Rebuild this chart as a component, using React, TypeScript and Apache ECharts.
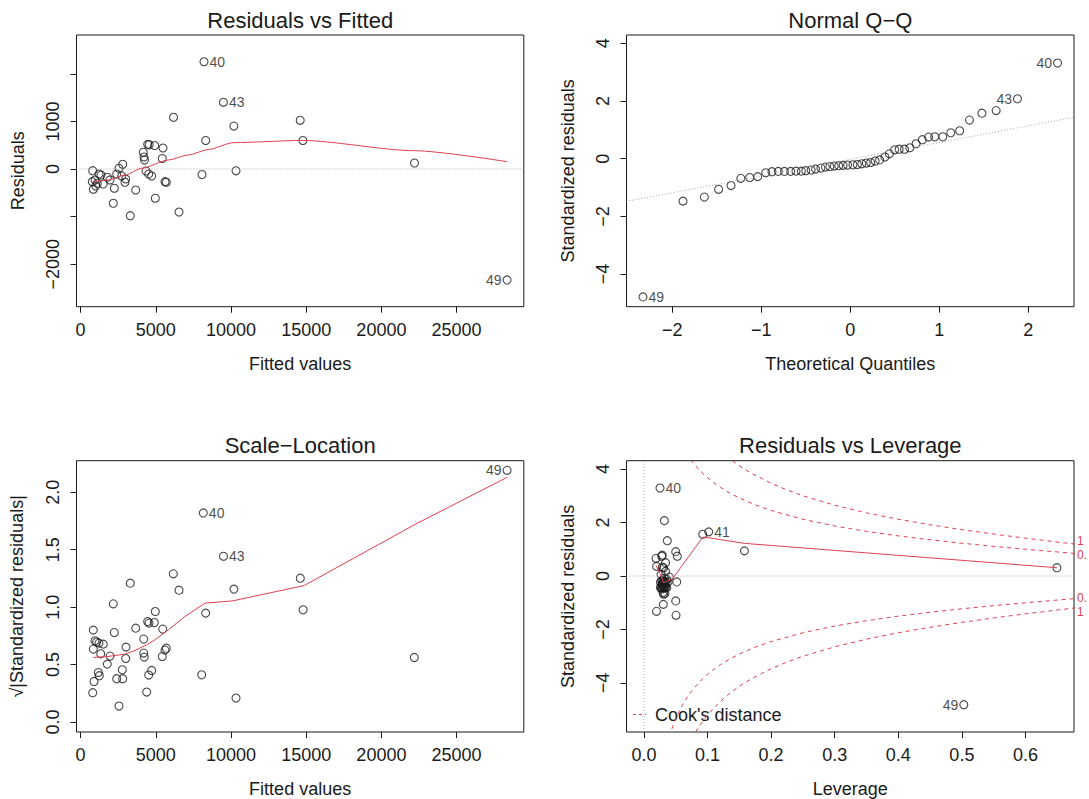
import React, { useEffect, useRef } from 'react';
import * as echarts from 'echarts';

const FONT = '"Liberation Sans", Arial, Helvetica, sans-serif';
const RED = '#e0404f';
const INK = '#1a1a1a';
const GREY = '#a8a8a8';

// ---------- Panel 1: Residuals vs Fitted ----------
const rfFitted = [8205, 9495, 28358, 6177, 8318, 10186, 14601, 14781, 22201, 10333, 8072, 4461, 4561, 4927, 5479, 4169, 4215, 4249, 5432, 2799, 2553, 805, 1223, 1356, 4348, 4528, 4727, 2400, 2733, 2999, 1775, 1955, 957, 778, 1110, 1004, 1509, 2952, 5612, 5698, 2241, 844, 3664, 4967, 2174, 6543, 3305];
const rfResid = [2253, 1401, -2331, 1086, 599, 901, 1023, 599, 126, -38, -116, 519, 508, 494, 441, 351, 252, 189, 221, 99, 15, -36, -105, -126, -42, -105, -147, -105, -147, -210, -174, -231, -231, -267, -300, -357, -315, -279, -267, -279, -405, -426, -441, -615, -720, -903, -981];
const rfSmoothX = [838, 1842, 2952, 4062, 5831, 7161, 8491, 10150, 14770, 22150, 28358];
const rfSmoothY = [-267, -231, -126, 15, 189, 294, 410, 553, 600, 385, 154];
const rfIds = [{ i: 0, t: '40', p: 'right' }, { i: 1, t: '43', p: 'right' }, { i: 2, t: '49', p: 'left' }];
const rfXTicks = [0, 5000, 10000, 15000, 20000, 25000];
const rfYTicks = [-2000, -1000, 0, 1000, 2000];
const rfYLabels = [-2000, 0, 1000];

// ---------- Panel 2: Normal Q-Q ----------
const qqTheo = [-2.33, -1.88, -1.64, -1.48, -1.34, -1.23, -1.13, -1.04, -0.95, -0.88, -0.81, -0.74, -0.67, -0.61, -0.55, -0.50, -0.44, -0.39, -0.33, -0.28, -0.23, -0.18, -0.13, -0.08, -0.03, 0.03, 0.08, 0.13, 0.18, 0.23, 0.28, 0.33, 0.39, 0.44, 0.50, 0.55, 0.61, 0.67, 0.74, 0.81, 0.88, 0.95, 1.04, 1.13, 1.23, 1.34, 1.48, 1.64, 1.88, 2.33];
const qqStd = [-4.79, -1.47, -1.33, -1.06, -0.93, -0.68, -0.65, -0.62, -0.485, -0.45, -0.44, -0.44, -0.44, -0.43, -0.43, -0.415, -0.39, -0.36, -0.325, -0.29, -0.27, -0.255, -0.24, -0.23, -0.22, -0.21, -0.20, -0.175, -0.15, -0.13, -0.08, -0.04, 0.06, 0.17, 0.31, 0.33, 0.33, 0.38, 0.52, 0.66, 0.75, 0.76, 0.76, 0.90, 0.97, 1.34, 1.58, 1.67, 2.08, 3.32];
const qqLineX = [-2.515, 2.515];
const qqLineY = [-1.48, 1.44];
const qqIds = [{ i: 0, t: '49', p: 'right' }, { i: 48, t: '43', p: 'left' }, { i: 49, t: '40', p: 'left' }];
const qqXTicks = [-2, -1, 0, 1, 2];
const qqYTicks = [-4, -2, 0, 2, 4];

// ---------- Panel 3: Scale-Location ----------
const slFitted = [6164, 3305, 6543, 2174, 8318, 4967, 4461, 4548, 4900, 844, 3664, 2241, 5459, 4196, 957, 1070, 1223, 1509, 844, 5698, 5612, 3019, 1336, 1955, 4196, 4235, 2999, 5432, 1775, 1177, 1243, 2773, 4727, 4528, 2400, 2799, 891, 8052, 805, 4395, 2553, 28358, 8158, 9501, 14608, 10193, 14794, 22188, 10333];
const slSqrt = [1.29, 1.209, 1.148, 1.029, 0.948, 0.962, 0.875, 0.861, 0.866, 0.80, 0.817, 0.779, 0.809, 0.722, 0.707, 0.696, 0.687, 0.678, 0.635, 0.643, 0.626, 0.652, 0.594, 0.574, 0.60, 0.565, 0.553, 0.570, 0.504, 0.431, 0.403, 0.455, 0.449, 0.409, 0.377, 0.377, 0.353, 0.411, 0.255, 0.261, 0.139, 2.191, 1.82, 1.443, 1.252, 1.157, 0.977, 0.562, 0.209];
const slSmoothX = [838, 1842, 2952, 3617, 4395, 4947, 5831, 6941, 8271, 9601, 10126, 14862, 22374, 28358];
const slSmoothY = [0.562, 0.571, 0.591, 0.623, 0.672, 0.716, 0.803, 0.918, 1.035, 1.049, 1.055, 1.188, 1.730, 2.13];
const slIds = [{ i: 41, t: '49', p: 'left' }, { i: 42, t: '40', p: 'right' }, { i: 43, t: '43', p: 'right' }];
const slYTicks = [0, 0.5, 1.0, 1.5, 2.0];

// ---------- Panel 4: Residuals vs Leverage ----------
const rlLev = [0.0253, 0.1019, 0.503, 0.0321, 0.0368, 0.0925, 0.158, 0.6495, 0.050, 0.0525, 0.0516, 0.050, 0.0505, 0.0198, 0.0305, 0.019, 0.0288, 0.028, 0.034, 0.020, 0.029, 0.031, 0.027, 0.034, 0.032, 0.040, 0.036, 0.030, 0.028, 0.033, 0.038, 0.026, 0.031, 0.029, 0.035, 0.032, 0.028, 0.030, 0.033, 0.027, 0.036, 0.031, 0.029, 0.034, 0.026, 0.032, 0.028, 0.030, 0.033, 0.031];
const rlStd = [3.29, 1.65, -4.81, 2.07, 1.32, 1.56, 0.94, 0.31, 0.91, 0.74, -0.22, -0.93, -1.47, -1.32, -1.06, 0.66, 0.78, 0.74, 0.50, 0.36, 0.33, 0.30, 0.06, 0.17, -0.08, -0.04, -0.13, -0.15, -0.175, -0.20, -0.22, -0.23, -0.24, -0.255, -0.27, -0.29, -0.325, -0.36, -0.39, -0.415, -0.43, -0.43, -0.44, -0.44, -0.44, -0.45, -0.485, -0.62, -0.65, -0.68];
const rlSmoothX = [0.019, 0.026, 0.031, 0.037, 0.045, 0.0925, 0.102, 0.158, 0.6495];
const rlSmoothY = [0.40, 0.05, -0.25, -0.18, -0.10, 1.45, 1.43, 1.22, 0.31];
const rlIds = [{ i: 0, t: '40', p: 'right' }, { i: 1, t: '41', p: 'right' }, { i: 2, t: '49', p: 'left' }];
const rlXTicks = [0, 0.1, 0.2, 0.3, 0.4, 0.5, 0.6];
const rlYTicks = [-4, -2, 0, 2, 4];
// Cook's distance contours (levels 1 and 0.5)
const cookUpOneH = [0.12, 0.13, 0.14, 0.155, 0.17, 0.185, 0.2, 0.225, 0.25, 0.3, 0.35, 0.4, 0.45, 0.5, 0.55, 0.6, 0.65, 0.68];
const cookUpOneY = [4.690, 4.477, 4.293, 4.038, 3.827, 3.649, 3.464, 3.217, 3.000, 2.646, 2.360, 2.121, 1.915, 1.732, 1.567, 1.414, 1.271, 1.188];
const cookUpHalfH = [0.06, 0.065, 0.07, 0.075, 0.08, 0.09, 0.1, 0.11, 0.12, 0.135, 0.15, 0.175, 0.2, 0.25, 0.3, 0.35, 0.4, 0.45, 0.5, 0.55, 0.6, 0.65, 0.68];
const cookUpHalfY = [4.848, 4.644, 4.464, 4.305, 4.153, 3.894, 3.674, 3.484, 3.317, 3.100, 2.915, 2.657, 2.449, 2.121, 1.871, 1.669, 1.500, 1.354, 1.225, 1.108, 1.000, 0.899, 0.840];
const cookLoHalfH = [0.04, 0.045, 0.05, 0.055, 0.06, 0.065, 0.07, 0.075, 0.08, 0.09, 0.1, 0.11, 0.12, 0.135, 0.15, 0.175, 0.2, 0.25, 0.3, 0.35, 0.4, 0.45, 0.5, 0.55, 0.6, 0.65, 0.68];
const cookLoHalfY = [-6.000, -5.642, -5.339, -5.077, -4.848, -4.644, -4.464, -4.305, -4.153, -3.894, -3.674, -3.484, -3.317, -3.100, -2.915, -2.657, -2.449, -2.121, -1.871, -1.669, -1.500, -1.354, -1.225, -1.108, -1.000, -0.899, -0.840];
const cookLoOneH = [0.075, 0.08, 0.09, 0.1, 0.11, 0.12, 0.13, 0.14, 0.155, 0.17, 0.185, 0.2, 0.225, 0.25, 0.3, 0.35, 0.4, 0.45, 0.5, 0.55, 0.6, 0.65, 0.68];
const cookLoOneY = [-6.083, -5.874, -5.508, -5.196, -4.928, -4.690, -4.477, -4.293, -4.038, -3.827, -3.649, -3.464, -3.217, -3.000, -2.646, -2.360, -2.121, -1.915, -1.732, -1.567, -1.414, -1.271, -1.188];

const minus = (s: string) => s.replace('-', '\u2212');
const zip = (xs: number[], ys: number[]) => xs.map((x, i) => [x, ys[i]]);

function points(xs: number[], ys: number[], ids: { i: number; t: string; p: string }[]) {
  return xs.map((x, i) => {
    const lab = ids.find((d) => d.i === i);
    if (!lab) return [x, ys[i]];
    return {
      value: [x, ys[i]],
      label: { show: true, formatter: lab.t, position: lab.p, distance: 1, fontSize: 14, fontFamily: FONT, color: INK },
    };
  });
}

const textStyle = { fontSize: 18, fontFamily: FONT, color: INK };

function makeXAxis(gi: number, min: number, max: number, ticks: number[], fmt: (v: number) => string, name: string) {
  return {
    type: 'value', gridIndex: gi, min, max,
    name, nameLocation: 'middle', nameGap: 48, nameTextStyle: textStyle,
    axisLine: { show: false, onZero: false },
    axisTick: { show: true, length: 6, lineStyle: { color: INK }, customValues: ticks },
    axisLabel: { ...textStyle, margin: 14, customValues: ticks, formatter: (v: number) => fmt(v) },
    splitLine: { show: false },
  };
}
function makeYAxis(gi: number, min: number, max: number, ticks: number[], labels: number[], fmt: (v: number) => string, name: string, gap: number) {
  return {
    type: 'value', gridIndex: gi, min, max,
    name, nameLocation: 'middle', nameGap: gap, nameTextStyle: textStyle,
    axisLine: { show: false, onZero: false },
    axisTick: { show: true, length: 6, lineStyle: { color: INK }, customValues: ticks },
    axisLabel: { ...textStyle, margin: 15, rotate: 90, customValues: labels, formatter: (v: number) => fmt(v) },
    splitLine: { show: false },
  };
}

const scatterStyle = { color: 'rgba(0,0,0,0)', borderColor: INK, borderWidth: 1.1 };

function scatter(gi: number, data: any[]) {
  return { type: 'scatter', xAxisIndex: gi, yAxisIndex: gi, symbol: 'circle', symbolSize: 8, itemStyle: scatterStyle, data, z: 3 };
}
function line(gi: number, data: number[][], color: string, type: any, smooth: any = false) {
  return { type: 'line', xAxisIndex: gi, yAxisIndex: gi, data, symbol: 'none', smooth, smoothMonotone: 'x', lineStyle: { color, width: 1, type }, z: 4, clip: true };
}

function title(x: number, y: number, text: string) {
  return { type: 'text', x, y, style: { text, fontSize: 22, fontFamily: FONT, fill: INK, align: 'center', verticalAlign: 'middle', textAlign: 'center', textVerticalAlign: 'middle' } };
}
function redText(x: number, y: number, text: string) {
  return { type: 'text', x, y, style: { text, fontSize: 12, fontFamily: FONT, fill: RED, align: 'left', verticalAlign: 'middle', textAlign: 'left', textVerticalAlign: 'middle' } };
}

const DOT = [1, 2];

export default function App() {
  const ref = useRef<HTMLDivElement>(null);
  useEffect(() => {
    if (!ref.current) return;
    const chart = echarts.init(ref.current, null, { renderer: 'svg' });
    const grids = [
      { left: 76.5, top: 35, width: 447.3, height: 271.7 },
      { left: 626.5, top: 35, width: 447.5, height: 271.7 },
      { left: 76.5, top: 460.7, width: 447.3, height: 271.6 },
      { left: 626.5, top: 460.7, width: 447.5, height: 271.6 },
    ].map((g) => ({ ...g, show: true, borderColor: INK, borderWidth: 1, containLabel: false }));

    const intFmt = (v: number) => minus(String(v));
    const oneDec = (v: number) => minus(v.toFixed(1));

    const option: any = {
      animation: false,
      backgroundColor: '#ffffff',
      grid: grids,
      xAxis: [
        makeXAxis(0, -273, 29468, rfXTicks, intFmt, 'Fitted values'),
        makeXAxis(1, -2.515, 2.515, qqXTicks, intFmt, 'Theoretical Quantiles'),
        makeXAxis(2, -273, 29468, rfXTicks, intFmt, 'Fitted values'),
        makeXAxis(3, -0.0274, 0.6763, rlXTicks, oneDec, 'Leverage'),
      ],
      yAxis: [
        makeYAxis(0, -2893, 2815, rfYTicks, rfYLabels, intFmt, 'Residuals', 50),
        makeYAxis(1, -5.13, 4.29, qqYTicks, qqYTicks, intFmt, 'Standardized residuals', 50),
        makeYAxis(2, -0.087, 2.275, slYTicks, slYTicks, oneDec, '\u221A|Standardized residuals|', 51),
        makeYAxis(3, -5.83, 4.31, rlYTicks, rlYTicks, intFmt, 'Standardized residuals', 50),
      ],
      series: [
        // panel 1
        line(0, [[-273, 0], [29468, 0]], GREY, DOT),
        scatter(0, points(rfFitted, rfResid, rfIds)),
        line(0, zip(rfSmoothX, rfSmoothY), RED, 'solid', 0.25),
        // panel 2
        line(1, zip(qqLineX, qqLineY), GREY, DOT),
        scatter(1, points(qqTheo, qqStd, qqIds)),
        // panel 3
        scatter(2, points(slFitted, slSqrt, slIds)),
        line(2, zip(slSmoothX, slSmoothY), RED, 'solid', false),
        // panel 4
        line(3, [[-0.0274, 0], [0.6763, 0]], GREY, DOT),
        line(3, [[0, -5.83], [0, 4.31]], GREY, DOT),
        line(3, zip(cookUpOneH, cookUpOneY), RED, [4, 4], false),
        line(3, zip(cookUpHalfH, cookUpHalfY), RED, [4, 4], false),
        line(3, zip(cookLoHalfH, cookLoHalfY), RED, [4, 4], false),
        line(3, zip(cookLoOneH, cookLoOneY), RED, [4, 4], false),
        scatter(3, points(rlLev, rlStd, rlIds)),
        line(3, zip(rlSmoothX, rlSmoothY), RED, 'solid', false),
      ],
      graphic: [
        title(300.2, 20, 'Residuals vs Fitted'),
        title(850.3, 20, 'Normal Q\u2212Q'),
        title(300.2, 445, 'Scale\u2212Location'),
        title(850.3, 445, 'Residuals vs Leverage'),
        { type: 'line', shape: { x1: 633, y1: 714.5, x2: 646, y2: 714.5 }, style: { stroke: RED, lineWidth: 1, lineDash: [3, 3] } },
        { type: 'text', x: 655, y: 714.5, style: { text: "Cook's distance", fontSize: 18, fontFamily: FONT, fill: INK, align: 'left', verticalAlign: 'middle', textAlign: 'left', textVerticalAlign: 'middle' } },
        redText(1077, 541, '1'),
        redText(1077, 555, '0.'),
        redText(1077, 598, '0.'),
        redText(1077, 612, '1'),
      ],
    };
    chart.setOption(option);
    return () => chart.dispose();
  }, []);
  return <div ref={ref} style={{ position: 'absolute', left: 0, top: 0, width: 1089, height: 799 }} />;
}
